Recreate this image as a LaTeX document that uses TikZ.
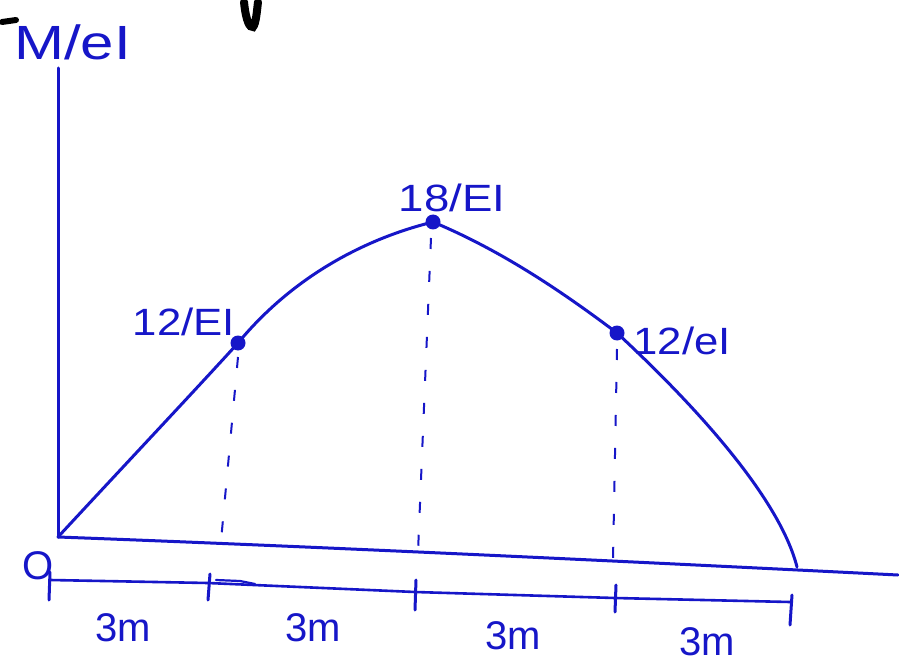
\documentclass[tikz,border=0pt]{standalone}
\usepackage{fontspec}
\usepackage{graphicx}
\setmainfont{Liberation Sans}
\begin{document}
\begin{tikzpicture}[x=1pt,y=-1pt,
  line/.style={draw=hb, line width=3pt, line cap=round, line join=round},
  dashline/.style={draw=hb, line width=2pt, dash pattern=on 11pt off 22pt},
  dot/.style={circle, fill=hb, inner sep=0pt, minimum size=15pt},
  lbl/.style={text=hb, inner sep=0pt, font=\fontsize{38}{40}\selectfont},
  dim/.style={text=hb, inner sep=0pt, font=\fontsize{40}{42}\selectfont},
  tick/.style={draw=hb, line width=3pt, line cap=round}]
\definecolor{hb}{RGB}{22,22,200}
\useasboundingbox[fill=white] (0,0) rectangle (899,668);
% stray black strokes at top
\draw[line width=6pt, line cap=round] (2,22) -- (16,20);
\draw[line width=8pt, line cap=round] (244,2) .. controls (246,22) and (250,28) .. (253,27) .. controls (256,24) and (257,10) .. (258,2);
% axes
\coordinate (O) at (58,537);
\coordinate (Ytop) at (58,68);
\coordinate (Xend) at (898,575);
\draw[line] (Ytop) -- (O);
\draw[line] (O) .. controls (300,546) and (600,560) .. (Xend);
% curve points
\node[dot] (A) at (238,343) {};
\node[dot] (B) at (433,222) {};
\node[dot] (C) at (617,333) {};
\coordinate (E) at (797,567);
\draw[line] (O) .. controls (120,470) and (200,385) .. (A.center)
  .. controls (290,280) and (360,240) .. (B.center)
  .. controls (500,250) and (560,290) .. (C.center)
  .. controls (700,410) and (780,500) .. (E);
% dashed verticals
\coordinate (Af) at (221,541);
\coordinate (Bf) at (418,552);
\coordinate (Cf) at (613,560);
\draw[dashline] (A.center) ++(0,14) -- (Af);
\draw[dashline] (B.center) ++(-2,16) -- (Bf);
\draw[dashline] (C.center) ++(0,16) -- (Cf);
% labels
\node[lbl, anchor=west, font=\fontsize{48}{50}\selectfont] (lM) at (14,42) {\scalebox{1.25}[1]{M/eI}};
\node[dim] (lO) at (38,566) {O};
\node[lbl] (lA) at (184,322) {\scalebox{1.15}[1]{12/EI}};
\node[lbl] (lB) at (452,198) {\scalebox{1.2}[1]{18/EI}};
\node[lbl] (lC) at (682,341) {\scalebox{1.15}[1]{12/eI}};
% dimension line
\coordinate (D0) at (50,580);
\coordinate (D1) at (208,583);
\coordinate (D2) at (415,592);
\coordinate (D3) at (615,598);
\coordinate (D4) at (790,602);
\draw[line, line width=2.6pt] (D0) -- (D1) -- (D2) -- (D3) -- (D4);
\draw[tick] (50,572) -- (49,600);
\draw[tick] (210,574) -- (208,600);
\draw[tick] (416,580) -- (415,610);
\draw[tick] (616,585) -- (615,612);
\draw[tick] (792,595) -- (790,625);
\draw[line, line width=2.2pt] (216,580) -- (240,581) -- (255,584);
\node[dim] (d1) at (123,628) {3m};
\node[dim] (d2) at (313,628) {3m};
\node[dim] (d3) at (513,636) {3m};
\node[dim] (d4) at (707,642) {3m};
\end{tikzpicture}
\end{document}
